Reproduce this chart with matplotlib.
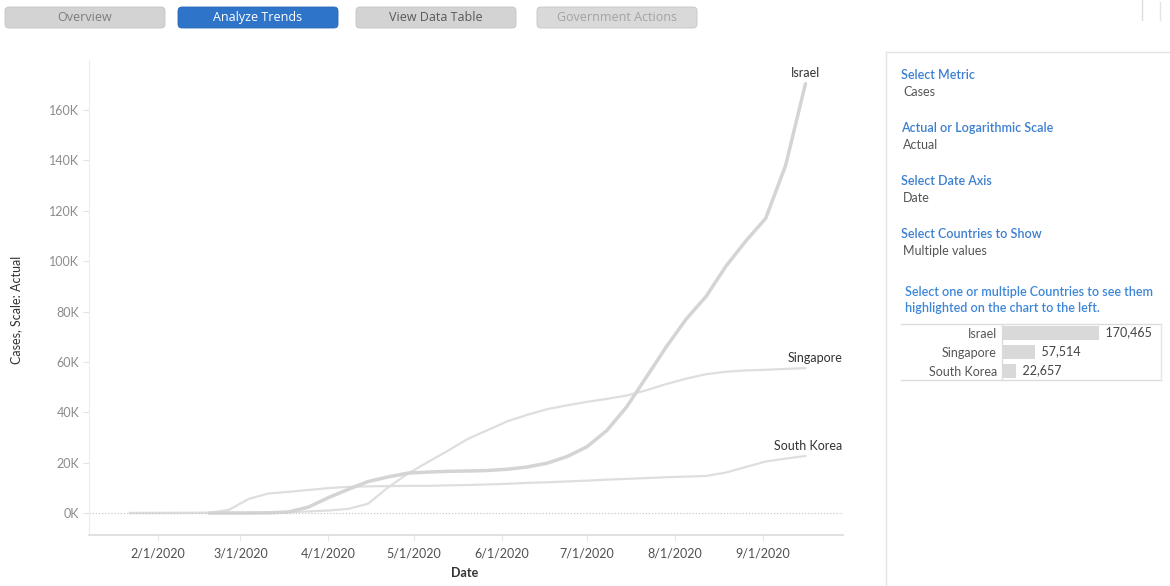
import matplotlib.pyplot as plt
import matplotlib.dates as mdates
from matplotlib.patches import FancyBboxPatch
from matplotlib.lines import Line2D
import pandas as pd

plt.rcParams['font.family'] = ['Lato', 'DejaVu Sans']

# weekly samples (Wednesdays)
dates = pd.date_range('2020-01-22', '2020-09-16', freq='7D')

israel = [None, None, None, None, 0, 2, 15, 75, 433, 2369,
          6092, 9404, 12501, 14326, 15834, 16246, 16548, 16667, 16872, 17377,
          18268, 19783, 22400, 26257, 32714, 42080, 54000, 66000, 77000, 86000,
          98000, 108000, 117000, 138000, 170465]
singapore = [0, 7, 28, 50, 84, 93, 112, 166, 313, 631,
             1000, 1623, 3699, 10141, 15641, 20198, 24671, 29364, 32876, 36405,
             38965, 41216, 42736, 44122, 45298, 46630, 48744, 51197, 53346, 55104,
             56099, 56607, 56852, 57229, 57514]
south_korea = [1, 4, 19, 28, 51, 1261, 5621, 7755, 8413, 9137,
               9887, 10384, 10591, 10694, 10761, 10806, 10962, 11110, 11344, 11590,
               11947, 12198, 12535, 12850, 13244, 13551, 13879, 14203, 14456, 14714,
               16058, 18265, 20449, 21588, 22657]

countries = ['Israel', 'Singapore', 'South Korea']
totals = [170465, 57514, 22657]

buttons = ['Overview', 'Analyze Trends', 'View Data Table', 'Government Actions']
filters = [('Select Metric', 'Cases'),
           ('Actual or Logarithmic Scale', 'Actual'),
           ('Select Date Axis', 'Date'),
           ('Select Countries to Show', 'Multiple values')]

W, H = 1170, 586
fig = plt.figure(figsize=(W / 100, H / 100), dpi=100)


def fx(px):
    return px / W


def fy(py):
    return 1 - py / H


# main line chart
ax = fig.add_axes([fx(89), fy(535), fx(843) - fx(89), fy(60) - fy(535)])
ax.plot(dates, singapore, color='#dedede', lw=1.6, solid_capstyle='round')
ax.plot(dates, south_korea, color='#dedede', lw=1.6, solid_capstyle='round')
ax.plot(dates, israel, color='#d4d4d4', lw=2.5, solid_capstyle='round')
ax.axhline(0, color='#c8c8c8', lw=0.9, ls=(0, (1, 1.5)))

ax.set_ylim(-8730, 179850)
ax.set_xlim(pd.Timestamp('2020-01-07 17:00'), pd.Timestamp('2020-09-29 05:00'))
ax.set_yticks(range(0, 160001, 20000))
ax.yaxis.set_major_formatter(lambda v, p: f'{int(v / 1000)}K')
ax.set_xticks(pd.date_range('2020-02-01', '2020-09-01', freq='MS'))
ax.xaxis.set_major_formatter(lambda v, p: '{d.month}/{d.day}/{d.year}'.format(d=mdates.num2date(v)))
ax.tick_params(axis='y', colors='#e2e2e2', labelcolor='#8c8c8c', labelsize=9, length=4, width=0.8, pad=3)
ax.tick_params(axis='x', colors='#e6e6e6', labelcolor='#505050', labelsize=9, length=4, width=0.8, pad=5)
for s in ['top', 'right']:
    ax.spines[s].set_visible(False)
ax.spines['left'].set_color('#ececec')
ax.spines['bottom'].set_color('#dcdcdc')
ax.spines['bottom'].set_linewidth(1.2)

ax.text(dates[-1], israel[-1] + 4400, 'Israel', ha='center', va='center', fontsize=9, color='#333333')
ax.text(pd.Timestamp('2020-09-29'), singapore[-1] + 4000, 'Singapore', ha='right', va='center', fontsize=9, color='#333333')
ax.text(pd.Timestamp('2020-09-29'), south_korea[-1] + 4000, 'South Korea', ha='right', va='center', fontsize=9, color='#333333')

fig.text(fx(16), fy(310), 'Cases, Scale: Actual', rotation=90, ha='center', va='center', fontsize=9, color='#333333')
fig.text(fx(465), fy(573), 'Date', ha='center', va='center', fontsize=9, color='#333333', fontweight='bold')

# overlay in pixel coordinates for the dashboard furniture
ov = fig.add_axes([0, 0, 1, 1], zorder=-1)
ov.set_xlim(0, W)
ov.set_ylim(H, 0)
ov.axis('off')

btn_x = [5, 178, 356, 537]
btn_fill = ['#d3d3d3', '#2e74c9', '#d3d3d3', '#d9d9d9']
btn_text = ['#7d7d7d', 'white', '#595959', '#a3a3a3']
for name, x0, fc, tc in zip(buttons, btn_x, btn_fill, btn_text):
    ov.add_patch(FancyBboxPatch((x0 + 4, 11), 160 - 8, 13, boxstyle='round,pad=4',
                                fc=fc, ec='#c4c4c4' if fc != '#2e74c9' else '#2a68b5', lw=0.6))
    ov.text(x0 + 80, 17.5, name, ha='center', va='center', fontsize=9, color=tc, family='Open Sans')

# little marks at the top right corner
ov.add_line(Line2D([1142, 1142], [0, 20], color='#dcdcdc', lw=1))
ov.add_line(Line2D([1160, 1160], [2, 20], color='#e4e4e4', lw=1))

# right-hand panel
ov.add_line(Line2D([886, 886], [52, H], color='#e4e4e4', lw=1))
ov.add_line(Line2D([886, W], [52, 52], color='#e4e4e4', lw=1))
for i, (title, value) in enumerate(filters):
    y0 = 75 + 53 * i
    ov.text(901, y0, title, ha='left', va='center', fontsize=9, color='#3c7fd0', fontweight='semibold')
    ov.text(903, y0 + 17, value, ha='left', va='center', fontsize=9, color='#555555')
ov.text(905, 292, 'Select one or multiple Countries to see them', ha='left', va='center',
        fontsize=9, color='#3c86d8', fontweight='semibold')
ov.text(905, 308, 'highlighted on the chart to the left.', ha='left', va='center',
        fontsize=9, color='#3c86d8', fontweight='semibold')

# country table
ov.add_line(Line2D([901, 1161], [324, 324], color='#dcdcdc', lw=1))
ov.add_line(Line2D([901, 1161], [380, 380], color='#dcdcdc', lw=1))
ov.add_line(Line2D([1161, 1161], [324, 380], color='#e4e4e4', lw=1))
ov.add_line(Line2D([1002, 1002], [324, 380], color='#dcdcdc', lw=1))

tab = fig.add_axes([fx(1003), fy(381), fx(1161) - fx(1003), fy(324) - fy(381)])
tab.barh(range(len(countries)), totals, height=0.74, color='#d9d9d9')
tab.set_xlim(0, 170465 * 158 / 96)
tab.set_ylim(2.55, -0.45)
tab.axis('off')
for i, (c, v) in enumerate(zip(countries, totals)):
    tab.text(v, i, f'  {v:,}', ha='left', va='center', fontsize=9, color='#444444')
    ov.text(997, 334 + 19 * i, c, ha='right', va='center', fontsize=9, color='#555555')

fig.savefig('out.png', dpi=100)
